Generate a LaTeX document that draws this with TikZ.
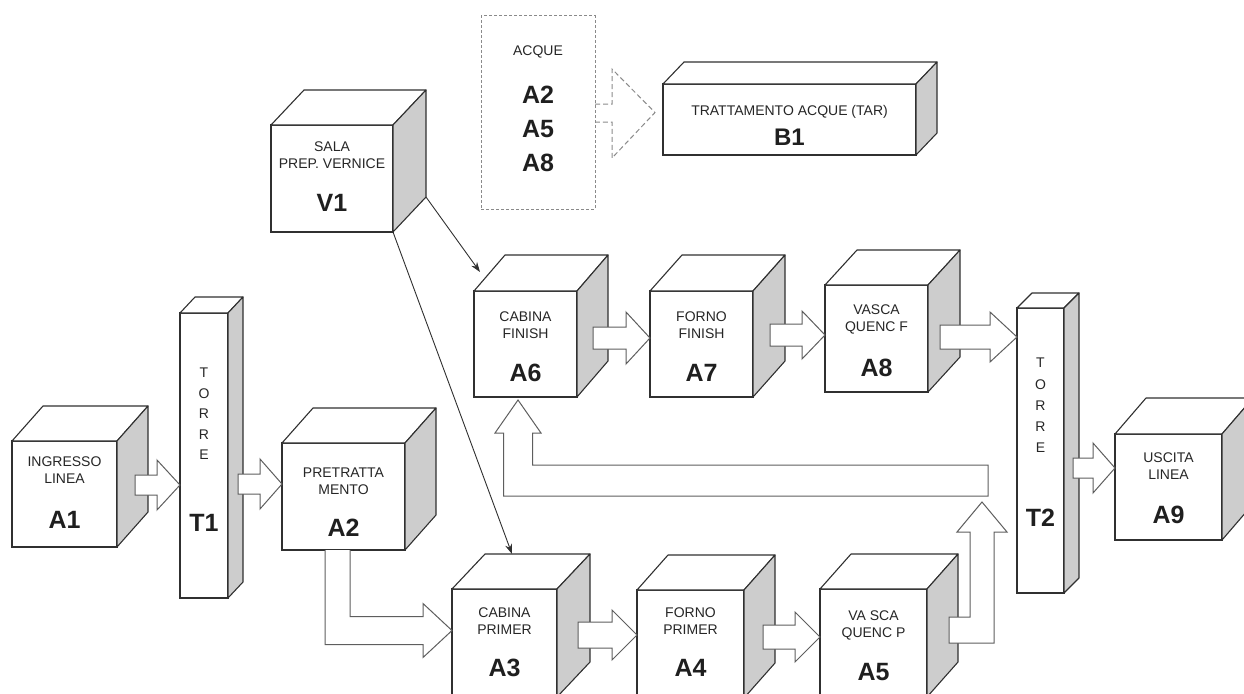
\documentclass[tikz,border=0pt]{standalone}
\usepackage{fontspec}
\setmainfont{Liberation Sans}
\usetikzlibrary{calc,arrows.meta}
\definecolor{sidegray}{HTML}{CDCDCD}
\definecolor{edgecol}{HTML}{303030}
\definecolor{arrcol}{HTML}{5E5E5E}
\definecolor{txtcol}{HTML}{262626}
\definecolor{dashcol}{HTML}{8A8A8A}
\tikzset{
 face/.style={draw=edgecol, line width=1.1pt, fill=white, inner sep=0pt, outer sep=0pt, anchor=north west},
 sidefill/.style={draw=edgecol, line width=1.1pt, fill=sidegray, line join=round},
 topfill/.style={draw=edgecol, line width=1.1pt, fill=white, line join=round},
 sm/.style={font=\fontsize{14}{17}\selectfont, text=txtcol, inner sep=0pt, align=center},
 big/.style={font=\fontsize{25}{34}\selectfont\bfseries, text=black!88, inner sep=0pt, align=center},
 barrow/.style={draw=arrcol, line width=1pt, fill=white, line join=miter},
 thinarr/.style={draw=edgecol, line width=0.9pt, -{Stealth[length=10pt,width=7pt]}},
 dbox/.style={draw=dashcol, line width=1pt, dash pattern=on 3pt off 2pt, inner sep=0pt, outer sep=0pt, anchor=north west},
 darr/.style={draw=dashcol, line width=1pt, dash pattern=on 5pt off 3pt},
}
\newcommand\cubo[7]{%
 \node[face, minimum width=#4pt, minimum height=#5pt] (#1) at (#2,#3) {};
 \draw[topfill] (#1.north west) -- ++(#6,-#7) -- ++(#4,0) -- (#1.north east) -- cycle;
 \draw[sidefill] (#1.north east) -- ++(#6,-#7) -- ++(0,#5) -- (#1.south east) -- cycle;
}
% #1 start, #2 tip, #3 shaft half, #4 head half, #5 head length
\newcommand\harr[5]{%
 \draw[barrow] ($(#1)+(0,-#3)$) -- ($(#2)+(-#5,-#3)$) -- ($(#2)+(-#5,-#4)$) -- (#2)
   -- ($(#2)+(-#5,#4)$) -- ($(#2)+(-#5,#3)$) -- ($(#1)+(0,#3)$) -- cycle;
}
\begin{document}
\begin{tikzpicture}[x=1pt,y=-1pt]
\useasboundingbox (0,0) rectangle (1244,693);
\clip (0,0) rectangle (1244,693);

% cubes
\cubo{A1}{12}{441}{105}{106}{31}{35}
\cubo{T1}{180}{313}{48}{285}{15}{16}
\cubo{A2}{282}{443}{123}{107}{31}{35}
\cubo{V1}{271}{125}{122}{107}{33}{35}
\cubo{B1}{663}{84}{253}{71}{21}{22}
\cubo{A6}{474}{291}{103}{106}{31}{36}
\cubo{A7}{650}{291}{103}{106}{32}{36}
\cubo{A8}{825}{285}{103}{107}{32}{35}
\cubo{T2}{1017}{308}{47}{285}{15}{15}
\cubo{A9}{1115}{434}{107}{106}{31}{36}
\cubo{A3}{452}{589}{105}{108}{33}{35}
\cubo{A4}{637}{590}{107}{108}{31}{35}
\cubo{A5}{820}{589}{107}{108}{31}{35}

% texts
\node[sm] (A1a) at ([yshift=-29.5pt]A1.north) {INGRESSO\\LINEA};
\node[big] (A1b) at ([yshift=-79pt]A1.north) {A1};
\node[sm, font=\fontsize{14}{20.5}\selectfont, anchor=north] (T1a) at ([yshift=-55pt]T1.north) {T\\O\\R\\R\\E};
\node[big] (T1b) at ([yshift=-210pt]T1.north) {T1};
\node[sm] (A2a) at ([yshift=-38pt]A2.north) {PRETRATTA\\MENTO};
\node[big] (A2b) at ([yshift=-85pt]A2.north) {A2};
\node[sm] (V1a) at ([yshift=-30.5pt]V1.north) {SALA\\PREP. VERNICE};
\node[big] (V1b) at ([yshift=-78pt]V1.north) {V1};
\node[sm] (B1a) at ([yshift=-28pt]B1.north) {TRATTAMENTO ACQUE (TAR)};
\node[big, font=\fontsize{24}{28}\selectfont\bfseries] (B1b) at ([yshift=-53pt]B1.north) {B1};
\node[sm] (A6a) at ([yshift=-34.5pt]A6.north) {CABINA\\FINISH};
\node[big] (A6b) at ([yshift=-82pt]A6.north) {A6};
\node[sm] (A7a) at ([yshift=-34.5pt]A7.north) {FORNO\\FINISH};
\node[big] (A7b) at ([yshift=-82pt]A7.north) {A7};
\node[sm] (A8a) at ([yshift=-34pt]A8.north) {VASCA\\QUENC F};
\node[big] (A8b) at ([yshift=-83pt]A8.north) {A8};
\node[sm, font=\fontsize{14}{21.25}\selectfont, anchor=north] (T2a) at ([yshift=-50pt]T2.north) {T\\O\\R\\R\\E};
\node[big] (T2b) at ([yshift=-210pt]T2.north) {T2};
\node[sm] (A9a) at ([yshift=-32.5pt]A9.north) {USCITA\\LINEA};
\node[big] (A9b) at ([yshift=-81pt]A9.north) {A9};
\node[sm] (A3a) at ([yshift=-32pt]A3.north) {CABINA\\PRIMER};
\node[big] (A3b) at ([yshift=-79pt]A3.north) {A3};
\node[sm] (A4a) at ([yshift=-31pt]A4.north) {FORNO\\PRIMER};
\node[big] (A4b) at ([yshift=-78pt]A4.north) {A4};
\node[sm] (A5a) at ([yshift=-36pt]A5.north) {VA SCA\\QUENC P};
\node[big] (A5b) at ([yshift=-83pt]A5.north) {A5};

% dashed ACQUE box
\node[dbox, minimum width=114pt, minimum height=193pt] (ACQ) at (481,16) {};
\node[sm] (ACQa) at ([yshift=-36pt]ACQ.north) {ACQUE};
\node[big] (ACQb) at ([yshift=-113pt]ACQ.north) {A2\\A5\\A8};
\coordinate (dt) at ([xshift=-8pt]B1.west |- ACQ.east);
\draw[darr] ($(ACQ.east)+(0,-8.5)$) -- ++(17,0) -- ++(0,-35) -- (dt)
  -- ($(ACQ.east)+(17,45.5)$) -- ++(0,-36) -- ($(ACQ.east)+(0,9.5)$);

% straight block arrows
\coordinate (s1) at ([xshift=18pt,yshift=9pt]A1.east);
\coordinate (t1) at (T1.west |- s1);
\harr{s1}{t1}{10}{25}{23}
\coordinate (s2) at ([xshift=10pt,yshift=-28.5pt]T1.east);
\coordinate (t2) at (A2.west |- s2);
\harr{s2}{t2}{10}{25}{22}
\coordinate (s3) at ([xshift=16pt,yshift=6pt]A6.east);
\coordinate (t3) at (A7.west |- s3);
\harr{s3}{t3}{11}{26}{24}
\coordinate (s4) at ([xshift=17pt,yshift=9pt]A7.east);
\coordinate (t4) at (A8.west |- s4);
\harr{s4}{t4}{11}{24}{23}
\coordinate (s5) at ([xshift=12pt,yshift=1.5pt]A8.east);
\coordinate (t5) at (T2.west |- s5);
\harr{s5}{t5}{12}{25}{27}
\coordinate (s6) at ([xshift=9pt,yshift=-17.5pt]T2.east);
\coordinate (t6) at (A9.west |- s6);
\harr{s6}{t6}{10}{25}{22}
\coordinate (s7) at ([xshift=21pt,yshift=8pt]A3.east);
\coordinate (t7) at (A4.west |- s7);
\harr{s7}{t7}{13}{25}{25}
\coordinate (s8) at ([xshift=19pt,yshift=7pt]A4.east);
\coordinate (t8) at (A5.west |- s8);
\harr{s8}{t8}{12}{25}{25}

% elbow A2 -> A3
\coordinate (e1a) at ($(A2.south west)+(68,0)$);
\coordinate (e1b) at ($(A2.south west)+(43,0)$);
\coordinate (e1t) at ([yshift=12.5pt]A3.west);
\coordinate (e1c) at ($(e1t)+(-29,-14)$);
\coordinate (e1d) at ($(e1t)+(-29,14)$);
\draw[barrow] (e1a) -- (e1a |- e1c) -- (e1c) -- ($(e1t)+(-29,-27)$) -- (e1t)
  -- ($(e1t)+(-29,27)$) -- (e1d) -- (e1b |- e1d) -- (e1b);

% elbow A5 -> T2
\coordinate (e2l) at ([xshift=22pt,yshift=13pt]A5.east);
\coordinate (e2t) at ([xshift=-35pt,yshift=-51.5pt]T2.west);
\coordinate (e2ti) at ($(e2t)+(-12,30)$);
\coordinate (e2to) at ($(e2t)+(12,30)$);
\coordinate (e2lt) at ($(e2l)+(0,-13)$);
\coordinate (e2lb) at ($(e2l)+(0,13)$);
\draw[barrow] (e2lt) -- (e2ti |- e2lt) -- (e2ti) -- ($(e2t)+(-25,30)$) -- (e2t)
  -- ($(e2t)+(25,30)$) -- (e2to) -- (e2to |- e2lb) -- (e2lb) -- cycle;

% return arrow T2 -> A6
\coordinate (e3r) at ([xshift=-29pt,yshift=-30pt]T2.west);
\coordinate (e3t) at ([xshift=-7.5pt,yshift=-3pt]A6.south);
\coordinate (e3i) at ($(e3t)+(14.5,33)$);
\coordinate (e3o) at ($(e3t)+(-14.5,33)$);
\coordinate (e3rt) at ($(e3r)+(0,-15.5)$);
\coordinate (e3rb) at ($(e3r)+(0,15.5)$);
\draw[barrow] (e3rt) -- (e3i |- e3rt) -- (e3i) -- ($(e3t)+(23,33)$) -- (e3t)
  -- ($(e3t)+(-23,33)$) -- (e3o) -- (e3o |- e3rb) -- (e3rb) -- cycle;

% V1 lines
\draw[thinarr] ($(V1.south east)+(33,-35)$) -- ([xshift=6pt,yshift=19pt]A6.north west);
\draw[thinarr] (V1.south east) -- ([xshift=60pt,yshift=35pt]A3.north west);
\end{tikzpicture}
\end{document}
